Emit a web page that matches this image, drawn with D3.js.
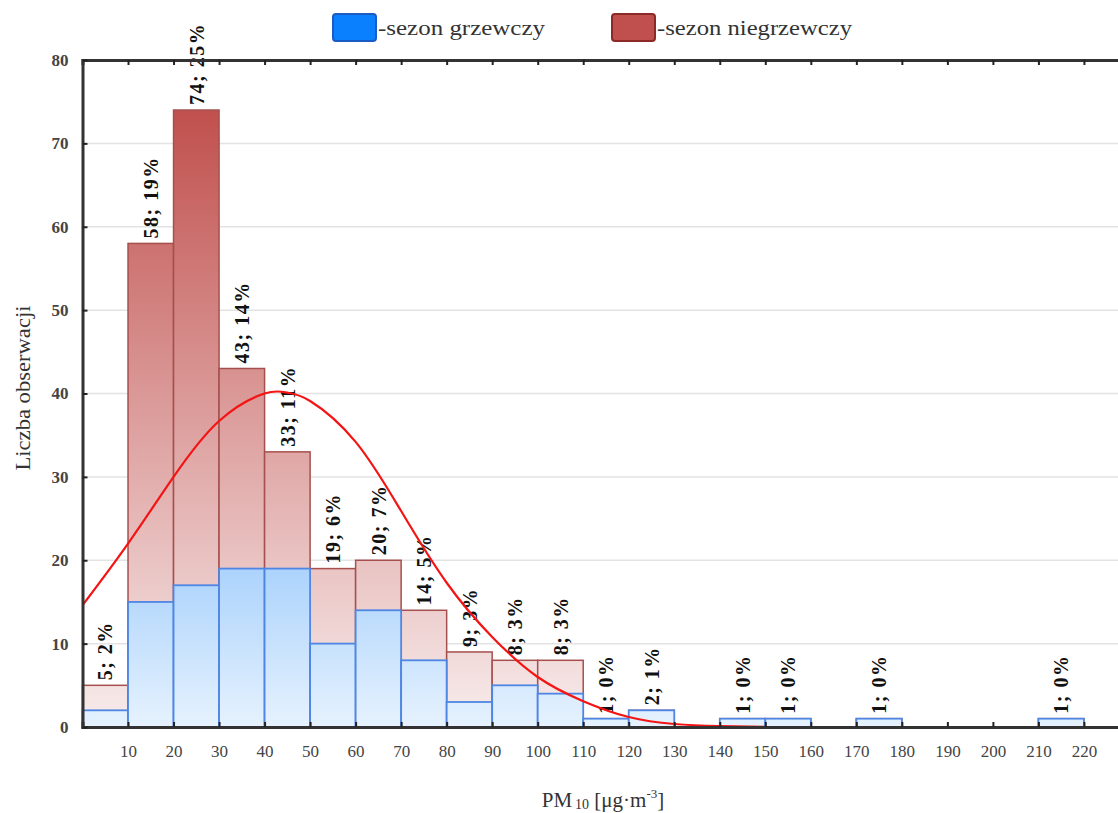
<!DOCTYPE html>
<html><head><meta charset="utf-8">
<script src="https://cdn.jsdelivr.net/npm/d3@7/dist/d3.min.js"></script>
<style>body{margin:0;background:#fff}svg{display:block}</style>
</head><body><svg id="c" width="1118" height="813"></svg>
<script>
const binStarts = [0,10,20,30,40,50,60,70,80,90,100,110,120,130,140,150,160,170,180,190,200,210];
const heating    = [2,15,17,19,19,10,14,8,3,5,4,1,2,0,1,1,0,1,0,0,0,1];
const nonHeating = [5,58,74,43,33,19,20,14,9,8,8,1,2,0,1,1,0,1,0,0,0,1];
const percents   = [2,19,25,14,11,6,7,5,3,3,3,0,1,null,0,0,null,0,null,null,null,0];
const xTicks = [10,20,30,40,50,60,70,80,90,100,110,120,130,140,150,160,170,180,190,200,210,220];
const yTicks = [0,10,20,30,40,50,60,70,80];
const curveX = [0,10,20,30,40,45,50,60,70,80,90,100,110,120,130,140,150];
const curveY = [14.6,22.0,30.0,36.7,40.0,40.1,39.1,34.2,25.9,17.3,10.8,6.0,3.1,1.2,0.36,0.1,0.02];
const seriesNames = ["-sezon grzewczy","-sezon niegrzewczy"];

const svg = d3.select("#c");
const serif = "'Liberation Serif','Times New Roman',serif";
const x = d3.scaleLinear().domain([0,230]).range([82.5, 82.5+230*4.552]);
const y = d3.scaleLinear().domain([0,80]).range([727,60]);
const bw = 10;

const defs = svg.append("defs");
const gR = defs.append("linearGradient").attr("id","gR").attr("gradientUnits","userSpaceOnUse")
  .attr("x1",0).attr("x2",0).attr("y1",y(74)).attr("y2",y(0));
gR.append("stop").attr("offset",0).attr("stop-color","#c0504d");
gR.append("stop").attr("offset",1).attr("stop-color","#f8eded");
const gB = defs.append("linearGradient").attr("id","gB").attr("gradientUnits","userSpaceOnUse")
  .attr("x1",0).attr("x2",0).attr("y1",y(19)).attr("y2",y(0));
gB.append("stop").attr("offset",0).attr("stop-color","#acd3fc");
gB.append("stop").attr("offset",1).attr("stop-color","#e6f2fe");
defs.append("clipPath").attr("id","clip").append("rect")
  .attr("x",x(0)).attr("y",y(80)).attr("width",x(230)-x(0)).attr("height",y(0)-y(80));

// grid
svg.append("g").selectAll("line").data(yTicks.filter(d=>d>0&&d<80)).join("line")
  .attr("x1",x(0)).attr("x2",x(230)).attr("y1",d=>y(d)).attr("y2",d=>y(d))
  .attr("stroke","#e3e3e3").attr("stroke-width",1.5);

// red bars
const data = binStarts.map((b,i)=>({b, h:heating[i], n:nonHeating[i], p:percents[i]}));
svg.append("g").selectAll("rect").data(data.filter(d=>d.n>0)).join("rect")
  .attr("x",d=>x(d.b)).attr("width",d=>x(d.b+bw)-x(d.b))
  .attr("y",d=>y(d.n)).attr("height",d=>y(0)-y(d.n))
  .attr("fill","url(#gR)").attr("stroke","#a5504e").attr("stroke-width",1.5);
// blue bars
svg.append("g").selectAll("rect").data(data.filter(d=>d.h>0)).join("rect")
  .attr("x",d=>x(d.b)).attr("width",d=>x(d.b+bw)-x(d.b))
  .attr("y",d=>y(d.h)).attr("height",d=>y(0)-y(d.h))
  .attr("fill","url(#gB)").attr("stroke","#4f86e3").attr("stroke-width",1.8);

// labels
svg.append("g").selectAll("text").data(data.filter(d=>d.n>0)).join("text")
  .attr("transform",d=>`translate(${x(d.b+bw/2)},${y(Math.max(d.n,d.h))-5}) rotate(-90)`)
  .attr("dy","0.36em").attr("text-anchor","start")
  .attr("font-family",serif).attr("font-weight","bold").attr("font-size",20)
  .attr("letter-spacing",1.5).attr("fill","#111")
  .text(d=>`${d.n}; ${d.p}%`);

// curve
const pts = curveX.map((v,i)=>[x(v),y(curveY[i])]);
svg.append("path").attr("clip-path","url(#clip)")
  .attr("d",d3.line().curve(d3.curveNatural)(pts))
  .attr("fill","none").attr("stroke","#f41414").attr("stroke-width",2.2);

// axes
const axB = svg.append("g").attr("transform",`translate(0,${y(0)})`)
  .call(d3.axisBottom(x).tickValues(xTicks).tickSize(-5).tickPadding(18));
const axT = svg.append("g").attr("transform",`translate(0,${y(80)})`)
  .call(d3.axisTop(x).tickValues(xTicks).tickSize(-5).tickFormat(""));
const axL = svg.append("g").attr("transform",`translate(${x(0)},0)`)
  .call(d3.axisLeft(y).tickValues(yTicks).tickSize(-5).tickPadding(14));
[axB,axT,axL].forEach(a=>{
  a.select(".domain").attr("stroke","#333").attr("stroke-width",3);
  a.selectAll(".tick line").attr("stroke","#222").attr("stroke-width",2);
  a.selectAll("text").attr("font-family",serif).attr("font-size",17).attr("fill","#444");
});
axL.selectAll("text").attr("font-weight","bold").attr("font-size",17);

// titles
const xt = svg.append("text").attr("x",603).attr("y",807).attr("text-anchor","middle")
  .attr("font-family",serif).attr("font-size",21).attr("fill","#333");
xt.append("tspan").text("PM");
xt.append("tspan").attr("font-size",14).attr("dx",3).attr("dy",2).text("10");
xt.append("tspan").attr("dy",-2).text(" [μg·m");
xt.append("tspan").attr("font-size",13).attr("dy",-9).text("-3");
xt.append("tspan").attr("dy",9).text("]");

svg.append("text").attr("transform","translate(30,388) rotate(-90)").attr("text-anchor","middle")
  .attr("font-family",serif).attr("font-size",20).attr("fill","#333")
  .attr("textLength",165).attr("lengthAdjust","spacingAndGlyphs").text("Liczba obserwacji");

// legend
const leg = [{x:333, fill:"#0a80ff", stroke:"#1a5cc4", tx:378, tl:167},
             {x:612, fill:"#c0504d", stroke:"#8c2a28", tx:657, tl:195}];
leg.forEach((l,i)=>{
  svg.append("rect").attr("x",l.x).attr("y",14).attr("width",43).attr("height",27).attr("rx",3)
    .attr("fill",l.fill).attr("stroke",l.stroke).attr("stroke-width",2);
  svg.append("text").attr("x",l.tx).attr("y",35).attr("font-family",serif).attr("font-size",22)
    .attr("fill","#333").attr("textLength",l.tl).attr("lengthAdjust","spacingAndGlyphs").text(seriesNames[i]);
});
</script></body></html>
